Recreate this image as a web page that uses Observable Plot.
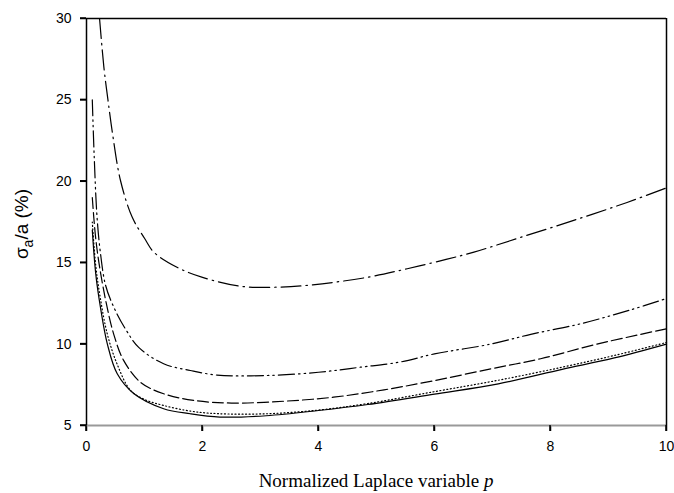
<!DOCTYPE html>
<html>
<head>
<meta charset="utf-8">
<script src="https://cdn.jsdelivr.net/npm/d3@7"></script>
<script src="https://cdn.jsdelivr.net/npm/@observablehq/plot@0.6"></script>
<style>
  html, body { margin: 0; padding: 0; background: #fff; }
</style>
</head>
<body>
<div id="chart"></div>
<script>
// Tick labels
const xTicks = [0, 2, 4, 6, 8, 10];
const yTicks = [5, 10, 15, 20, 25, 30];

// Series: p values and sigma_a/a (%)
const pSolid = [0.1, 0.16, 0.24, 0.36, 0.53, 0.82, 1.33, 1.79, 2.3, 3.1, 4.0, 4.85, 6.0, 7.1, 8.2, 9.1, 10];
const vSolid = [17.0, 14.3, 12.27, 10.0, 8.18, 6.95, 6.03, 5.72, 5.52, 5.6, 5.92, 6.29, 6.93, 7.56, 8.45, 9.15, 10.0];

const pDotted = [0.1, 0.16, 0.24, 0.36, 0.53, 0.76, 1.0, 1.33, 1.8, 2.25, 3.1, 4.0, 4.85, 6.0, 7.1, 8.2, 9.1, 10];
const vDotted = [17.5, 14.8, 12.8, 10.6, 8.75, 7.15, 6.6, 6.23, 5.88, 5.73, 5.72, 5.95, 6.35, 7.08, 7.78, 8.58, 9.3, 10.1];

const pDashed = [0.1, 0.15, 0.21, 0.33, 0.47, 0.64, 0.93, 1.33, 1.85, 2.5, 3.4, 4.26, 5.13, 6.0, 6.97, 7.83, 8.8, 10];
const vDashed = [19.0, 16.8, 15.1, 12.7, 10.6, 9.0, 7.66, 6.95, 6.54, 6.38, 6.49, 6.74, 7.19, 7.76, 8.48, 9.1, 10.0, 10.94];

const pDashDotDot = [0.1, 0.13, 0.18, 0.24, 0.33, 0.47, 0.67, 0.9, 1.33, 1.79, 2.25, 3.1, 4.0, 4.72, 5.41, 6.0, 6.97, 7.66, 8.52, 9.38, 10];
const vDashDotDot = [25.0, 21.8, 17.9, 15.6, 13.6, 12.27, 10.94, 9.8, 8.79, 8.38, 8.1, 8.07, 8.27, 8.58, 8.9, 9.4, 10.0, 10.6, 11.25, 12.1, 12.8];

const pDashDot = [0.225, 0.3, 0.37, 0.45, 0.586, 0.787, 1.0, 1.16, 1.56, 2.0, 2.66, 3.34, 3.9, 4.84, 5.53, 6.2, 6.68, 7.48, 8.4, 9.32, 10];
const vDashDot = [30, 27.0, 25, 22.9, 20.05, 17.8, 16.5, 15.65, 14.72, 14.1, 13.55, 13.5, 13.64, 14.1, 14.63, 15.2, 15.65, 16.55, 17.6, 18.7, 19.6];

const toRows = (ps, vs) => ps.map((p, i) => ({p, v: vs[i]}));

const lineStyle = (dash) => ({x: "p", y: "v", stroke: "#000", strokeWidth: 1.2, strokeDasharray: dash, curve: "catmull-rom"});

const chart = Plot.plot({
  width: 674,
  height: 493,
  marginTop: 18,
  marginRight: 8,
  marginBottom: 68,
  marginLeft: 86,
  style: {fontFamily: "'Liberation Sans', Arial, sans-serif", fontSize: "14px", color: "#000", background: "#fff", overflow: "visible"},
  x: {domain: [0, 10]},
  y: {domain: [5, 30]},
  marks: [
    Plot.axisX({ticks: xTicks, tickSize: 6, tickPadding: 10, label: null, stroke: "#000", strokeWidth: 1.5, strokeOpacity: 1}),
    Plot.axisY({ticks: yTicks, tickSize: 6, tickPadding: 9, label: null, stroke: "#000", strokeWidth: 1.5, strokeOpacity: 1}),
    Plot.line(toRows(pSolid, vSolid), lineStyle(null)),
    Plot.line(toRows(pDotted, vDotted), lineStyle("1,2.5")),
    Plot.line(toRows(pDashed, vDashed), lineStyle("11,4")),
    Plot.line(toRows(pDashDotDot, vDashDotDot), lineStyle("16,4,1.5,4,1.5,4")),
    Plot.line(toRows(pDashDot, vDashDot), lineStyle("20,5,1.5,5")),
    Plot.ruleY([5], {stroke: "#999", strokeWidth: 2}),
    Plot.ruleY([30], {stroke: "#000", strokeWidth: 1.5}),
    Plot.ruleX([0], {stroke: "#000", strokeWidth: 1.5}),
    Plot.ruleX([10], {stroke: "#000", strokeWidth: 1.5})
  ]
});

const svg = d3.select(chart);
const sx = chart.scale("x"), sy = chart.scale("y");
// Outward tick marks positioned through the plot's own scales
const tg = svg.append("g").attr("stroke", "#000").attr("stroke-width", 1.5);
xTicks.forEach(t => {
  const px = sx.apply(t), py = sy.apply(5);
  tg.append("line").attr("x1", px).attr("x2", px).attr("y1", py).attr("y2", py + 6);
});
yTicks.forEach(t => {
  const px = sx.apply(0), py = sy.apply(t);
  tg.append("line").attr("x1", px - 6).attr("x2", px).attr("y1", py).attr("y2", py);
});

// x-axis title
const xt = svg.append("text")
  .attr("x", 376).attr("y", 487)
  .attr("text-anchor", "middle")
  .attr("font-family", "'Liberation Serif', 'Times New Roman', serif")
  .attr("font-size", 19)
  .attr("fill", "#000");
xt.append("tspan").text("Normalized Laplace variable ");
xt.append("tspan").attr("font-style", "italic").text("p");

// y-axis title
const yt = svg.append("text")
  .attr("transform", "translate(28,224) rotate(-90)")
  .attr("text-anchor", "middle")
  .attr("font-family", "'Liberation Sans', Arial, sans-serif")
  .attr("font-size", 19)
  .attr("fill", "#000");
yt.append("tspan").text("σ");
yt.append("tspan").attr("font-size", 14).attr("dy", 5).text("a");
yt.append("tspan").attr("dy", -5).text("/a (%)");

document.getElementById("chart").appendChild(chart);
</script>
</body>
</html>
